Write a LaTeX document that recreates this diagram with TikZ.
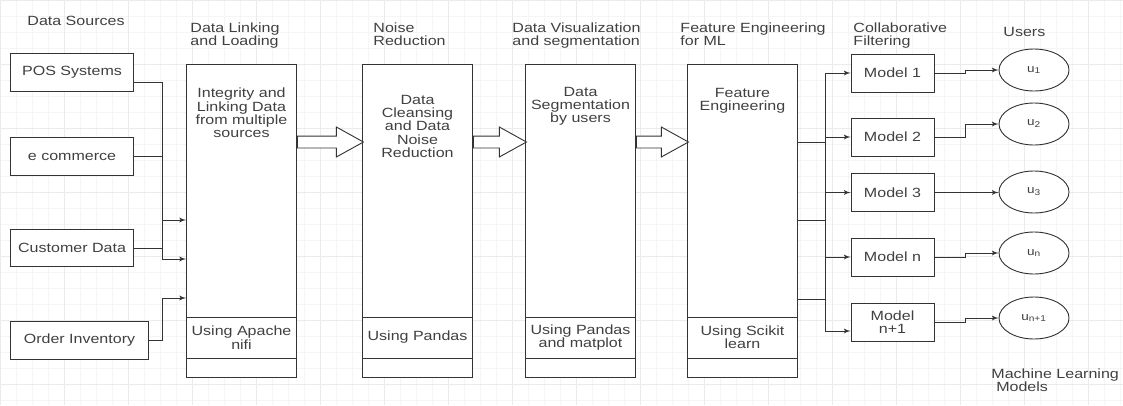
\documentclass[tikz,border=0pt]{standalone}
\usepackage{fontspec}
\setmainfont{Liberation Sans}[FakeStretch=1.2]
\usepackage{tikz}
\usetikzlibrary{arrows,shapes,positioning}
\tikzstyle{source} = [rectangle, draw, fill=white, minimum width=3.08cm,
    minimum height=0.93cm, anchor=west]
\tikzstyle{stage} = [rectangle, draw, fill=white, minimum width=2.75cm, minimum height=7.825cm]
\tikzstyle{stagetext} = [align=center, anchor=north, inner sep=0pt]
\tikzstyle{tool} = [rectangle, draw, minimum width=2.75cm, minimum height=1.025cm,
    align=center, inner xsep=0pt, anchor=south]
\tikzstyle{model} = [rectangle, draw, fill=white, minimum width=2.075cm, minimum height=0.95cm, align=center]
\tikzstyle{user} = [ellipse, draw, fill=white, minimum width=1.75cm, minimum height=1.05cm, font=\footnotesize]
\tikzstyle{header} = [align=left, anchor=north west, inner sep=0pt]
\tikzstyle{hollow} = [single arrow, draw, fill=white, inner xsep=0pt, inner ysep=0.1375cm,
    single arrow head extend=0.225cm, single arrow tip angle=58, anchor=tail]
\tikzstyle{line} = [draw, -latex']

\begin{document}
\begin{tikzpicture}[font=\fontsize{9.5pt}{9.5pt}\selectfont, draw=black!80, text=black!75,
    line width=0.65pt, node distance=2cm]
  \useasboundingbox (0,0) rectangle (28.075,-10.125);
  \draw[black!4, line width=0.2pt, step=0.4] (0,0) grid (28.075,-10.125);
  \draw[black!8, line width=0.3pt, step=1.6] (0,0) grid (28.075,-10.125);

    % Headers
    \node[header] (hsrc) at (0.675,-0.4) {Data Sources};
    \node[header] (hlink) at (4.75,-0.55) {Data Linking\\and Loading};
    \node[header] (hclean) at (9.325,-0.55) {Noise\\Reduction};
    \node[header] (hsegm) at (12.8,-0.55) {Data Visualization\\and segmentation};
    \node[header] (hfeat) at (17.0,-0.55) {Feature Engineering\\for ML};
    \node[header] (hcf) at (21.325,-0.55) {Collaborative\\Filtering};
    \node[header] (husers) at (25.075,-0.675) {Users};
    \node[header] (hml) at (24.775,-9.2) {Machine Learning\\\hspace*{0.12cm}Models};

    % Data sources
    \node[source] (pos) at (0.25,-1.8125) {POS Systems};
    \node[source] (ecom) at (0.25,-3.9125) {e commerce};
    \node[source] (cust) at (0.25,-6.2) {Customer Data};
    \node[source, minimum width=3.45cm] (order) at (0.25,-8.5125) {Order Inventory};

    % Stages
    \node[stage] (link) at (6.0375,-5.5125) {};
    \node[stage, right of=link, node distance=4.4cm] (clean) {};
    \node[stage, right of=clean, node distance=4.075cm] (segm) {};
    \node[stage, right of=segm, node distance=4.05cm] (feat) {};

    \node[stagetext] (linkT) at ([yshift=-0.6cm]link.north) {Integrity and\\Linking Data\\from multiple\\sources};
    \node[stagetext] (cleanT) at ([yshift=-0.775cm]clean.north) {Data\\Cleansing\\and Data\\Noise\\Reduction};
    \node[stagetext] (segmT) at ([yshift=-0.575cm]segm.north) {Data\\Segmentation\\by users};
    \node[stagetext] (featT) at ([yshift=-0.6cm]feat.north) {Feature\\Engineering};

    \node[tool] (linkU) at ([yshift=0.475cm]link.south) {Using Apache\\nifi};
    \node[tool] (cleanU) at ([yshift=0.475cm]clean.south) {Using Pandas};
    \node[tool] (segmU) at ([yshift=0.475cm]segm.south) {Using Pandas\\and matplot};
    \node[tool] (featU) at ([yshift=0.475cm]feat.south) {Using Scikit\\learn};

    % Hollow arrows between stages
    \node[hollow, minimum height=1.65cm] (ar1) at ([yshift=1.9625cm]link.east) {};
    \node[hollow, minimum height=1.325cm] (ar2) at ([yshift=1.9625cm]clean.east) {};
    \node[hollow, minimum height=1.3cm] (ar3) at ([yshift=1.9625cm]segm.east) {};

    % Models
    \node[model] (m1) at (22.3125,-1.825) {Model 1};
    \node[model, below of=m1, node distance=1.6cm] (m2) {Model 2};
    \node[model, below of=m2, node distance=1.3875cm] (m3) {Model 3};
    \node[model, below of=m3, node distance=1.6125cm] (mn) {Model n};
    \node[model, below of=mn, node distance=1.625cm] (mn1) {Model\\n+1};

    % Users
    \node[user] (u1) at (25.85,-1.75) {u\textsubscript{1}};
    \node[user] (u2) at (25.85,-3.1) {u\textsubscript{2}};
    \node[user] (u3) at (25.85,-4.8) {u\textsubscript{3}};
    \node[user] (un) at (25.85,-6.325) {u\textsubscript{n}};
    \node[user] (un1) at (25.85,-7.95) {u\textsubscript{n+1}};

    % Source connectors
    \coordinate (lb1) at (4.05,-5.5);
    \coordinate (lb2) at (4.05,-6.475);
    \coordinate (lb3) at (4.05,-7.45);
    \coordinate (posout) at ([yshift=-0.2375cm]pos.east);
    \draw (posout) -| (lb2);
    \draw (ecom.east) -- (ecom.east -| lb1);
    \draw (cust.east) -- (cust.east -| lb1);
    \path[line] (lb1) -- (lb1 -| link.west);
    \path[line] (lb2) -- (lb2 -| link.west);
    \path[line] (order.east) -| (lb3) -- (lb3 -| link.west);

    % Feature engineering to models
    \coordinate (ftop) at (20.625,-1.825);
    \coordinate (fbot) at (20.625,-8.275);
    \draw (ftop) -- (fbot);
    \foreach \dy in {1.9625,0,-1.9625}{
      \coordinate (fo) at ([yshift=\dy cm]feat.east);
      \draw (fo) -- (fo -| ftop);
    }
    \foreach \m in {m1,m2,m3,mn}
      \path[line] (\m.west -| ftop) -- (\m.west);
    \path[line] (fbot) -- (fbot -| mn1.west);

    % Models to users
    \coordinate (kx) at (24.125,0);
    \path[line] (m1.east) -- (m1.east -| kx) |- (u1.west);
    \path[line] (m2.east) -- (m2.east -| kx) |- (u2.west);
    \path[line] (m3.east) -- (m3.east -| u3.west);
    \path[line] (mn.east) -- (mn.east -| kx) |- (un.west);
    \path[line] (mn1.east) -- (mn1.east -| kx) |- (un1.west);
\end{tikzpicture}
\end{document}
